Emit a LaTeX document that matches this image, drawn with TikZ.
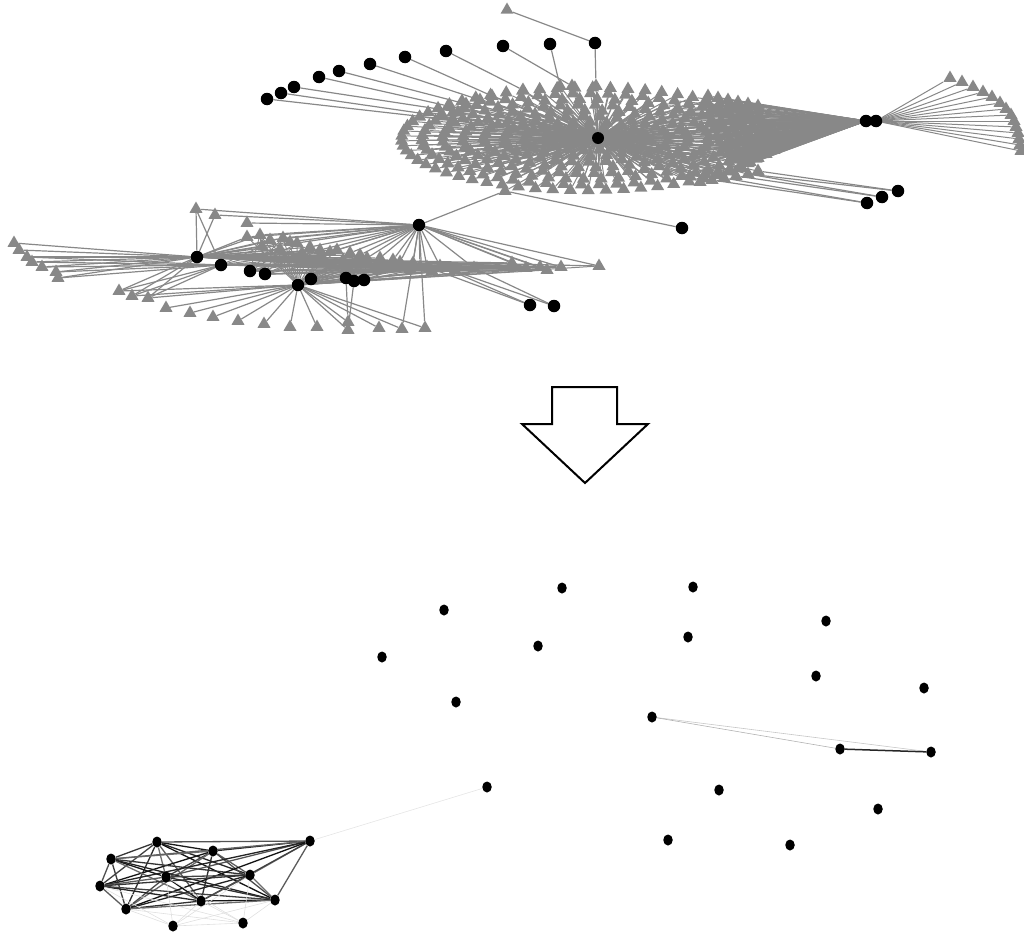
\documentclass[tikz,border=0pt]{standalone}
\usetikzlibrary{shapes.geometric}
\pgfdeclarelayer{edges}
\pgfsetlayers{edges,main}
\definecolor{netgray}{RGB}{136,136,136}
\begin{document}
\begin{tikzpicture}[x=1pt,y=-1pt,
  tri/.style={regular polygon,regular polygon sides=3,minimum size=15pt,inner sep=0pt,fill=netgray,draw=none},
  bdot/.style={circle,fill=black,minimum size=12.5pt,inner sep=0pt},
  sdot/.style={ellipse,fill=black,minimum width=9.5pt,minimum height=11pt,inner sep=0pt},
  link/.style={draw=netgray,line width=1.2pt},
  flink/.style={draw=netgray,line width=1pt},
  wlink/.style={line width=0.6pt},
]
\useasboundingbox (0,0) rectangle (1024,934);

% ---------------- upper network ----------------
% concentric rings of leaves around the main hub
\foreach \k in {1,...,9}{
  \pgfmathtruncatemacro\n{7*\k+2}
  \foreach \i in {1,...,\n}{
    \pgfmathsetmacro\a{360/\n*\i+13*\k}
    \node[tri] (d-\k-\i) at ({586+20.5*\k*cos(\a)},{139+5.7*\k*sin(\a)}) {};
  }
}
% extra leaves on the lower right rim
\foreach \x/\y [count=\c] in {690/176,705/174,718/172,730/170,742/168,700/182,712/180,724/178,736/176,748/174,758/171}
  \node[tri] (e\c) at (\x,\y) {};
% leaves fed by the top-left dots
\foreach \x/\y [count=\c] in {452/120,440/116,458/112,448/106,466/104,480/100,492/96,523/90,572/86,560/86,596/86}
  \node[tri] (g\c) at (\x,\y) {};
\node[tri] (tt) at (507,10) {};
\node[tri] (tx) at (505,191) {};

% slanted fan of leaves towards the twin dots
\foreach \j in {0,...,5}{
  \foreach \i in {0,...,12}{
    \pgfmathsetmacro\t{\i/12}
    \node[tri] (f-\j-\i) at ({708+10*\j+(42-2*\j)*(1-cos(90*\t))},{96+2*\j+(66-6*\j)*sin(90*\t)}) {};
  }
}
% leaves on the far right
\foreach \x/\y [count=\c] in {950/78,962/82,973/87,983/92,992/97,1000/103,1006/109,1011/115,1014/121,1016/127,1018/133,1019/139,1020/145,1021/151}
  \node[tri] (fr\c) at (\x,\y) {};

\node[bdot,minimum size=12pt] (hub) at (598,138) {};
\node[bdot] (r1) at (866,121) {};
\node[bdot] (r2) at (876,121) {};
\node[bdot] (m1) at (867,203) {};
\node[bdot] (m2) at (882,197) {};
\node[bdot] (m3) at (898,191) {};
\node[bdot] (ex) at (682,228) {};
\foreach \x/\y [count=\c] in {267/99,281/93,294/87,319/77,339/71,370/64,405/57,446/51,503/46,550/44,595/43}
  \node[bdot] (k\c) at (\x,\y) {};

% ---------------- left cluster ----------------
\foreach \x/\y [count=\c] in {14/243,19/250,27/257,32/262,42/267,56/272,58/278}
  \node[tri] (lt\c) at (\x,\y) {};
\foreach \x/\y [count=\c] in {119/291,132/296,148/298}
  \node[tri] (ll\c) at (\x,\y) {};
\foreach \x/\y [count=\c] in {196/209,215/215,247/223}
  \node[tri] (tp\c) at (\x,\y) {};
\foreach \x/\y [count=\c] in {247/237,260/235,270/240,283/238,290/242,297/243,310/247,320/250,330/252,337/250,350/253,360/255,367/258,380/258,393/260,400/262,413/263,420/267,427/267,440/266}
  \node[tri] (bd\c) at (\x,\y) {};
\foreach \x/\y [count=\c] in {262/246,280/249,302/253,322/257,343/260,368/263,390/266,410/269,432/271,455/270}
  \node[tri] (bl\c) at (\x,\y) {};
\foreach \x/\y [count=\c] in {474/268,512/263,526/268,540/267,547/270,561/267,599/266}
  \node[tri] (rt\c) at (\x,\y) {};
\foreach \x/\y [count=\c] in {166/308,190/313,213/317,238/321,264/324,290/327,317/327,348/322,348/330,379/328,402/329,425/328}
  \node[tri] (ba\c) at (\x,\y) {};

\node[bdot] (b1) at (419,225) {};
\node[bdot] (b2) at (197,257) {};
\node[bdot] (b3) at (298,285) {};
\foreach \x/\y [count=\c] in {221/265,250/271,265/274,311/279,346/278,354/281,364/280}
  \node[bdot] (c\c) at (\x,\y) {};
\node[bdot] (dd1) at (530,305) {};
\node[bdot] (dd2) at (554,306) {};

\begin{pgfonlayer}{edges}
  % hub spokes
  \foreach \k in {1,...,9}{
    \pgfmathtruncatemacro\n{7*\k+2}
    \foreach \i in {1,...,\n}{ \draw[flink] (hub) -- (d-\k-\i); }
  }
  \foreach \c in {1,...,11}{ \draw[flink] (hub) -- (e\c); \draw[flink] (hub) -- (g\c); }
  \draw[flink] (hub) -- (tx);
  % twin dots to the fan and to the right rim of the rings
  \foreach \j in {0,...,5}{ \foreach \i in {0,...,12}{ \draw[link] (r1) -- (f-\j-\i); } }
  \foreach \k in {5,...,9}{
    \pgfmathtruncatemacro\n{7*\k+2}
    \foreach \i in {1,...,\n}{
      \pgfmathtruncatemacro\ok{cos(360/\n*\i+13*\k)>0.5 ? 1 : 0}
      \ifnum\ok=1 \draw[flink] (r1) -- (d-\k-\i); \fi
    }
  }
  \foreach \c in {1,...,14}{ \draw[flink] (r2) -- (fr\c); }
  \draw[link] (r1) -- (r2);
  % lower right dots
  \draw[link] (m3) -- (e10); \draw[link] (m3) -- (e11);
  \draw[link] (m2) -- (e9);  \draw[link] (m2) -- (e10);
  \draw[link] (m1) -- (e8); \draw[link] (m1) -- (e7);
  % top-left dots
  \foreach \c in {1,...,11}{ \draw[link] (k\c) -- (g\c); }
  \draw[link] (tt) -- (k11);
  % bridge between the two parts
  \draw[link] (tx) -- (b1);
  \draw[link] (tx) -- (ex);

  % left cluster
  \foreach \c in {1,...,3}{ \draw[link] (b1) -- (tp\c); }
  \foreach \c in {1,...,20}{ \draw[link] (b1) -- (bd\c); \draw[link] (b2) -- (bd\c); }
  \foreach \c in {1,...,10}{ \draw[link] (b2) -- (bl\c); \draw[flink] (b3) -- (bl\c); \draw[flink] (c1) -- (bl\c); }
  \foreach \c in {1,...,7}{ \draw[link] (b1) -- (rt\c); \draw[link] (b2) -- (rt\c); }
  \foreach \c in {1,...,6}{ \draw[flink] (c1) -- (rt\c); \draw[flink] (c2) -- (rt\c); \draw[flink] (c3) -- (rt\c); }
  \foreach \c in {1,...,7}{ \draw[link] (b2) -- (lt\c); }
  \foreach \c in {3,...,7}{ \draw[link] (c1) -- (lt\c); }
  \foreach \c in {1,...,3}{ \draw[link] (b2) -- (ll\c); \draw[link] (c1) -- (ll\c); \draw[link] (b3) -- (ll\c); }
  \foreach \c in {1,...,12}{ \draw[link] (b3) -- (ba\c); }
  \foreach \c in {1,...,20}{ \draw[flink] (b3) -- (bd\c); }
  \foreach \c in {1,...,7}{ \draw[flink] (b3) -- (rt\c); }
  \foreach \c in {2,4,6,8,10,12}{ \draw[flink] (c2) -- (bd\c); \draw[flink] (c3) -- (bd\c); }
  \foreach \c in {11,13,15,17,19}{ \draw[flink] (c4) -- (bd\c); \draw[flink] (c7) -- (bd\c); }
  \draw[link] (tp1) -- (b2); \draw[link] (tp2) -- (b2); \draw[link] (tp1) -- (c1);
  \draw[link] (c5) -- (ba8); \draw[link] (c6) -- (ba9);
  \draw[link] (b1) -- (ba11); \draw[link] (b1) -- (ba12);
  \draw[link] (dd1) -- (bd19); \draw[link] (dd1) -- (bd20);
  \draw[link] (dd2) -- (bd20); \draw[link] (dd2) -- (rt1);
\end{pgfonlayer}

% ---------------- transformation arrow ----------------
\draw[line width=2pt,line join=miter,fill=white]
  (552,387) -- (617,387) -- (617,424) -- (648,424) -- (585,483) -- (522,424) -- (552,424) -- cycle;

% ---------------- lower network ----------------
\foreach \x/\y [count=\c] in {562/588,693/587,444/610,826/621,688/637,538/646,382/657,816/676,924/688,456/702,652/717,840/749,931/752,487/787,719/790,878/809,668/840,790/845}
  \node[sdot] (s\c) at (\x,\y) {};
\foreach \x/\y [count=\c] in {157/842,213/851,111/859,310/841,166/877,250/875,100/886,201/901,275/900,126/909,173/926,243/923}
  \node[sdot] (q\c) at (\x,\y) {};

\begin{pgfonlayer}{edges}
  \draw[wlink,black!22] (s11) -- (s13);
  \draw[wlink,black!30] (s11) -- (s12);
  \draw[line width=1.5pt,black!85] (s12) -- (s13);
  \draw[wlink,black!10] (s14) -- (q4);
  % dense core of the small cluster
  \foreach \a in {1,...,9}{
    \pgfmathtruncatemacro\lo{\a+1}
    \foreach \b in {\lo,...,10}{
      \pgfmathtruncatemacro\s{55+mod(\a*17+\b*29,40)}
      \draw[line width=1.3pt,black!\s] (q\a) -- (q\b);
    }
  }
  \foreach \a in {5,6,7,8,9,10}{ \draw[wlink,black!12] (q11) -- (q\a); \draw[wlink,black!12] (q12) -- (q\a); }
  \draw[wlink,black!12] (q11) -- (q12);
\end{pgfonlayer}
\end{tikzpicture}
\end{document}
